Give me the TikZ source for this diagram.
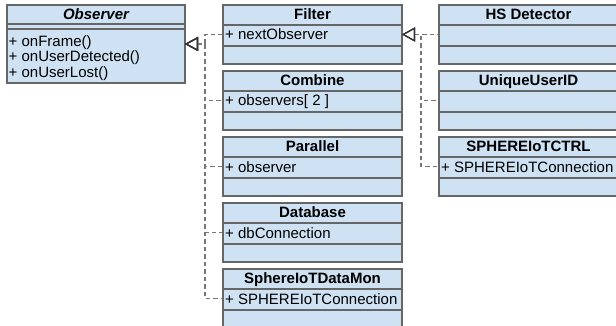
\documentclass[tikz,border=0pt]{standalone}
\usepackage{fontspec}
\setmainfont{Liberation Sans}
\usetikzlibrary{arrows.meta}
\definecolor{clsfill}{HTML}{CFE2F3}
\definecolor{clsdraw}{HTML}{666666}
\definecolor{edgegray}{HTML}{777777}
\tikzset{
  cls/.style={draw=clsdraw,fill=clsfill,line width=1.8pt,minimum width=179pt,minimum height=59pt,anchor=north west,inner sep=0pt,outer sep=0pt},
  ctitle/.style={font=\fontsize{15}{15}\selectfont\bfseries,anchor=base,inner sep=0pt},
  cattr/.style={font=\fontsize{15}{15}\selectfont,anchor=base west,inner sep=0pt},
  cline/.style={draw=clsdraw,line width=1.8pt},
  real/.style={draw=edgegray,line width=1.6pt,dash pattern=on 4.5pt off 3pt,{Triangle[open,length=13pt,width=14pt,color=black!80,line width=1.1pt]}-}
}
\begin{document}
\begin{tikzpicture}[x=1pt,y=-1pt]
\useasboundingbox (0,0) rectangle (616,326);
%interface
\node[cls,minimum width=178pt,minimum height=78pt] (observer) at (7,5) {};
\node[ctitle,font=\fontsize{15}{15}\selectfont\bfseries\itshape] (observer-t) at ([yshift=-14.5pt]observer.north) {Observer};
\draw[cline] ([yshift=-19pt]observer.north west) -- ([yshift=-19pt]observer.north east);
\draw[cline] ([yshift=-24pt]observer.north west) -- ([yshift=-24pt]observer.north east);
\foreach \m/\t [count=\i] in {1/+ onFrame(),2/+ onUserDetected(),3/+ onUserLost()}
  {\node[cattr] (observer-m\m) at ([xshift=1.5pt,yshift={-26pt-15.5pt*\i}]observer.north west) {\t};}
%observers
\foreach \n/\y/\t/\a in {filter/5/Filter/+ nextObserver,combine/71/Combine/+ observers[ 2 ],parallel/137/Parallel/+ observer,database/203/Database/+ dbConnection,datamon/269/SphereIoTDataMon/+ SPHEREIoTConnection}
{
  \node[cls] (\n) at (223,\y) {};
  \node[ctitle] (\n-t) at ([yshift=-14.5pt]\n.north) {\t};
  \draw[cline] ([yshift=-20pt]\n.north west) -- ([yshift=-20pt]\n.north east);
  \draw[cline] ([yshift=-41pt]\n.north west) -- ([yshift=-41pt]\n.north east);
  \node[cattr] (\n-a) at ([xshift=2pt,yshift=-35pt]\n.north west) {\a};
}
%filters
\foreach \n/\y/\t/\a in {hsdetector/5/HS Detector/,uniqueid/71/UniqueUserID/,ctrl/137/SPHEREIoTCTRL/+ SPHEREIoTConnection}
{
  \node[cls] (\n) at (439,\y) {};
  \node[ctitle] (\n-t) at ([yshift=-14.5pt]\n.north) {\t};
  \draw[cline] ([yshift=-20pt]\n.north west) -- ([yshift=-20pt]\n.north east);
  \draw[cline] ([yshift=-41pt]\n.north west) -- ([yshift=-41pt]\n.north east);
  \node[cattr] (\n-a) at ([xshift=2pt,yshift=-35pt]\n.north west) {\a};
}
%realizations
\coordinate (ltrunk) at (205,0);
\coordinate (rtrunk) at (421,0);
\foreach \n in {filter,combine,parallel,database,datamon}
  {\draw[real] (observer.east) -- (ltrunk |- observer.east) |- (\n.west);}
\foreach \n in {hsdetector,uniqueid,ctrl}
  {\draw[real] (filter.east) -- (rtrunk |- filter.east) |- (\n.west);}
\end{tikzpicture}
\end{document}
